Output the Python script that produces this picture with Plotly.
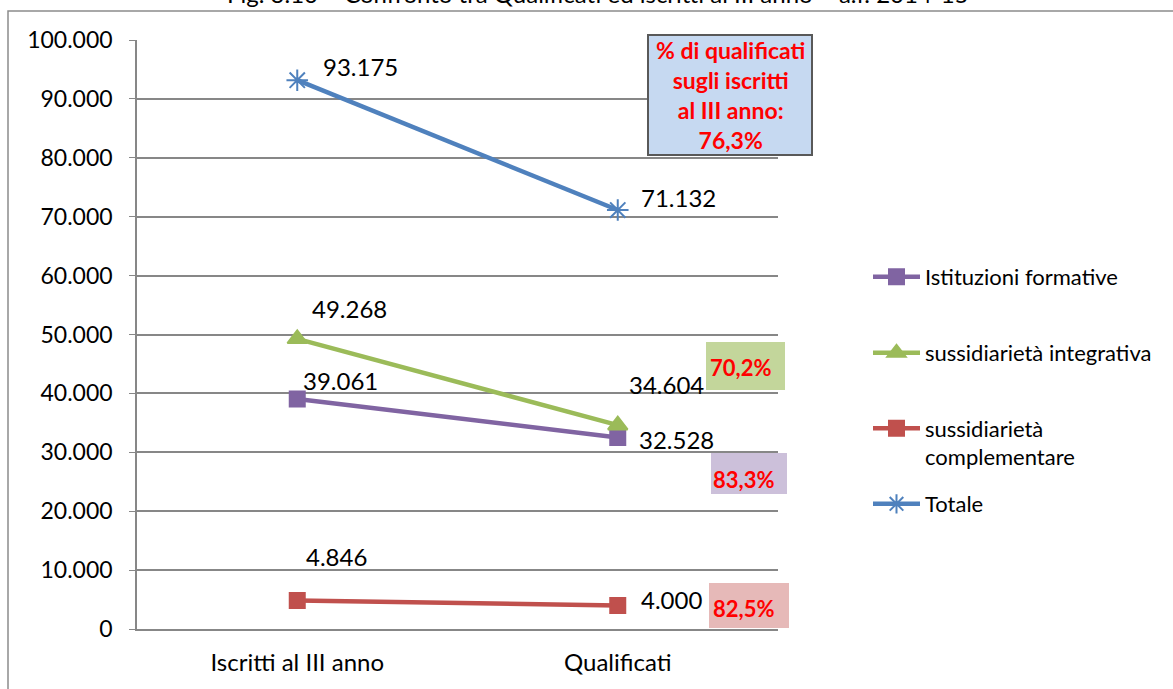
import plotly.graph_objects as go

categories = ["Iscritti al III anno", "Qualificati"]
series_names = ["Istituzioni formative", "sussidiarietà integrativa",
                "sussidiarietà complementare", "Totale"]
istituzioni = [39061, 32528]
integrativa = [49268, 34604]
complementare = [4846, 4000]
totale = [93175, 71132]
pct_labels = ["70,2%", "83,3%", "82,5%"]
box_text = "% di qualificati<br>sugli iscritti<br>al III anno:<br>76,3%"
title_text = "Fig. 3.10 – Confronto tra Qualificati ed iscritti al III anno – a.f. 2014-15"

W, H = 1173, 689
L, R, T, B = 137, 778, 40, 629  # plot area in screen pixels


def px(x):
    return (x - L) / (R - L)


def py(y):
    return (B - y) / (B - T)


def fmt(v):
    return f"{v:,}".replace(",", ".")


FONT = "Lato"
fig = go.Figure()

styles = [
    (istituzioni, "#8064A2", "square", 15, "legend"),
    (integrativa, "#9BBB59", "triangle-up", 17, "legend2"),
    (complementare, "#C0504D", "square", 15, "legend3"),
    (totale, "#4F81BD", "asterisk-open", 18, "legend4"),
]
for name, (vals, col, sym, size, lg) in zip(series_names, styles):
    disp = name if name != "sussidiarietà complementare" else "sussidiarietà<br>complementare"
    fig.add_trace(go.Scatter(
        x=categories, y=vals, name=disp, mode="lines+markers",
        line=dict(color=col, width=4.5),
        marker=dict(symbol=sym, size=size, color=col,
                    line=dict(color=col, width=2)),
        legend=lg, showlegend=True,
    ))

label_shifts = {
    "istituzioni": [(43, 18), (59, -2)],
    "integrativa": [(52, 30), (49, 41)],
    "complementare": [(39, 44), (54, 6)],
    "totale": [(63, 14), (61, 13)],
}
for key, vals in [("istituzioni", istituzioni), ("integrativa", integrativa),
                  ("complementare", complementare), ("totale", totale)]:
    for i, (c, v) in enumerate(zip(categories, vals)):
        dx, dy = label_shifts[key][i]
        fig.add_annotation(x=c, y=v, xref="x", yref="y", text=fmt(v),
                           showarrow=False, xshift=dx, yshift=dy,
                           xanchor="center", yanchor="middle",
                           font=dict(family=FONT, size=24, color="#000000"))

boxes = [
    ((706, 342, 785, 390), "#C3D69B", (740, 367)),
    ((711, 453, 787, 494), "#CCC0DA", (743, 479)),
    ((709, 583, 789, 628), "#E6B9B8", (743, 608)),
]
for ((x0, y0, x1, y1), fill, (tx, ty)), lab in zip(boxes, pct_labels):
    fig.add_shape(type="rect", xref="paper", yref="paper",
                  x0=px(x0), x1=px(x1), y0=py(y1), y1=py(y0),
                  fillcolor=fill, line=dict(width=0), layer="above")
    fig.add_annotation(xref="paper", yref="paper", x=px(tx), y=py(ty),
                       xanchor="center", yanchor="middle",
                       text=f"<b>{lab}</b>", showarrow=False,
                       font=dict(family=FONT, size=22, color="#FF0000"))

fig.add_shape(type="rect", xref="paper", yref="paper",
              x0=px(648), x1=px(812), y0=py(155), y1=py(35),
              fillcolor="#C6D9F1", line=dict(color="#595959", width=2), layer="above")
fig.add_annotation(xref="paper", yref="paper", x=px(730), y=py(95),
                   xanchor="center", yanchor="middle",
                   text=f"<b>{box_text}</b>", showarrow=False, align="center",
                   font=dict(family=FONT, size=23, color="#FF0000"))

fig.add_shape(type="rect", xref="paper", yref="paper",
              x0=px(8), x1=px(1190), y0=py(710), y1=py(11),
              line=dict(color="#8C8C8C", width=1.5), fillcolor="rgba(0,0,0,0)")
fig.add_annotation(xref="paper", yref="paper", x=px(598), y=py(-6),
                   text=title_text, showarrow=False,
                   xanchor="center", yanchor="middle",
                   font=dict(family=FONT, size=24, color="#000000"))

legend_common = dict(font=dict(family=FONT, size=22, color="#000000"),
                     bgcolor="rgba(0,0,0,0)", borderwidth=0,
                     xanchor="left", yanchor="middle", valign="top",
                     itemwidth=47)
leg_y = [277, 353, 443, 504]
layout_legends = {}
for lg, yy in zip(["legend", "legend2", "legend3", "legend4"], leg_y):
    layout_legends[lg] = dict(x=px(868), y=py(yy), **legend_common)

fig.update_layout(
    width=W, height=H,
    margin=dict(l=L, r=W - R, t=T, b=H - B),
    paper_bgcolor="white", plot_bgcolor="white",
    separators=",.",
    xaxis=dict(type="category", range=[-0.5, 1.5], showgrid=False,
               showline=True, linecolor="#878787", linewidth=1.5,
               ticks="", tickfont=dict(family=FONT, size=24, color="#000000"),
               ticklabelstandoff=11),
    yaxis=dict(range=[0, 100000], dtick=10000, tickformat=",d",
               showgrid=True, gridcolor="#878787", gridwidth=1.5,
               showline=True, linecolor="#878787", linewidth=1.5,
               ticks="outside", ticklen=6, tickcolor="#878787",
               tickfont=dict(family=FONT, size=23, color="#000000"),
               ticklabelstandoff=12, zeroline=False),
    **layout_legends,
)

fig.write_html("out.html", config={"displayModeBar": False},
               post_script="document.body.style.margin='0';document.body.style.overflow='hidden';")
